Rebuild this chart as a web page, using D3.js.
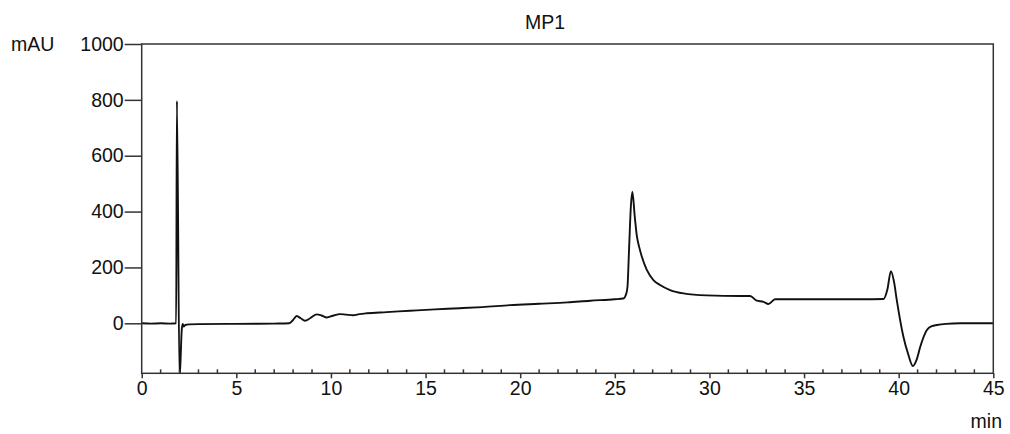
<!DOCTYPE html>
<html>
<head>
<meta charset="utf-8">
<script src="https://cdn.jsdelivr.net/npm/d3@7"></script>
<style>
  html, body { margin: 0; padding: 0; background: #fff; }
  svg { display: block; }
  text { font-family: "Liberation Sans", Arial, sans-serif; fill: #111; }
</style>
</head>
<body>
<svg id="chart" width="1010" height="434"></svg>
<script>
// ---- data ----
const title = "MP1";
const yUnit = "mAU";
const xUnit = "min";
const xTicks = [0, 5, 10, 15, 20, 25, 30, 35, 40, 45];
const xMinorTicks = d3.range(0, 46, 1);
const yTicks = [0, 200, 400, 600, 800, 1000];
const xDomain = [0, 45];
const yDomain = [-179, 1000];

const times = [
  0, 0.5, 1.0, 1.5, 1.82, 1.86, 2.0, 2.12, 2.17, 2.22, 2.3, 2.5, 3, 5, 7, 7.8,
  8.0, 8.19, 8.4, 8.63, 8.9, 9.25, 9.5, 9.78, 10.1, 10.48, 10.8, 11.18, 11.5, 11.9,
  12.95, 14.18, 15.5, 16.8, 18, 19.47, 21, 22.5, 23.7, 25, 25.45, 25.6, 25.67,
  25.75, 25.85, 25.93, 26.05, 26.16, 26.3, 26.43, 26.69, 27.04, 27.39, 27.92, 28.63,
  29.86, 31.62, 32.15, 32.5, 32.86, 33.12, 33.47, 34.27, 36, 38, 39.2, 39.4,
  39.59, 39.75, 39.9, 40.25, 40.5, 40.75, 40.95, 41.14, 41.49, 41.75, 42.02,
  42.5, 43.25, 44, 45
];
const signal = [
  0, -1, 0, -1, 0, 796, -200, -20, -2, -12, -6, -4, -3, -2, -1, 0,
  12, 26, 18, 9, 18, 32, 28, 21, 27, 33, 31, 29, 33, 36,
  40, 45, 50, 54, 58, 65, 70, 75, 81, 86, 89, 105, 131,
  260, 420, 471, 385, 315, 270, 238, 191, 155, 137, 119, 107,
  100, 98, 98, 81, 77, 69, 86, 86, 86, 86, 87, 120,
  187, 150, 83, -48, -110, -153, -130, -84, -24, -10, -6,
  -2, 0, 0, 0
];

// ---- layout ----
const svg = d3.select("#chart");
const L = 141.7, R = 993.3, T = 44, B = 373.3;

const x = d3.scaleLinear().domain(xDomain).range([L, R]);
const y = d3.scaleLinear().domain(yDomain).range([B, T]);

svg.append("defs").append("clipPath").attr("id", "clip")
  .append("rect").attr("x", L).attr("y", T).attr("width", R - L).attr("height", B - T);

// trace
const pts = times.map((t, i) => [t, signal[i]]);
const line = d3.line().x(d => x(d[0])).y(d => y(d[1])).curve(d3.curveMonotoneX);
svg.append("path")
  .datum(pts)
  .attr("clip-path", "url(#clip)")
  .attr("d", line)
  .attr("fill", "none")
  .attr("stroke", "#111")
  .attr("stroke-width", 1.9)
  .attr("stroke-linejoin", "round");

// frame
svg.append("rect")
  .attr("x", L).attr("y", T).attr("width", R - L).attr("height", B - T)
  .attr("fill", "none").attr("stroke", "#333").attr("stroke-width", 1.5);

// x axis: major ticks down, minor ticks up
const xAxis = d3.axisBottom(x).tickValues(xTicks).tickSize(5).tickPadding(3).tickFormat(d3.format("d"));
const gx = svg.append("g").attr("transform", `translate(0,${B})`).call(xAxis);
gx.select(".domain").remove();
gx.selectAll(".tick line").attr("stroke", "#333").attr("stroke-width", 1.5);
gx.selectAll(".tick text").style("font-size", "19.5px").style("font-family", "Liberation Sans, Arial, sans-serif").attr("fill", "#111");

svg.append("g").selectAll("line")
  .data(xMinorTicks.filter(d => d % 5 !== 0))
  .join("line")
  .attr("x1", d => x(d)).attr("x2", d => x(d))
  .attr("y1", B).attr("y2", B - 4)
  .attr("stroke", "#333").attr("stroke-width", 1.5);

// y axis
const yAxis = d3.axisLeft(y).tickValues(yTicks).tickSize(17).tickPadding(1).tickFormat(d3.format("d"));
const gy = svg.append("g").attr("transform", `translate(${L},0)`).call(yAxis);
gy.select(".domain").remove();
gy.selectAll(".tick line").attr("stroke", "#333").attr("stroke-width", 1.5);
gy.selectAll(".tick text").style("font-size", "19.5px").style("font-family", "Liberation Sans, Arial, sans-serif").attr("fill", "#111");

// labels
svg.append("text").attr("x", 545).attr("y", 29).attr("text-anchor", "middle")
  .style("font-size", "19.5px").text(title);
svg.append("text").attr("x", 11).attr("y", 51).attr("text-anchor", "start")
  .style("font-size", "19.5px").text(yUnit);
svg.append("text").attr("x", 1002).attr("y", 428).attr("text-anchor", "end")
  .style("font-size", "19.5px").text(xUnit);
</script>
</body>
</html>
